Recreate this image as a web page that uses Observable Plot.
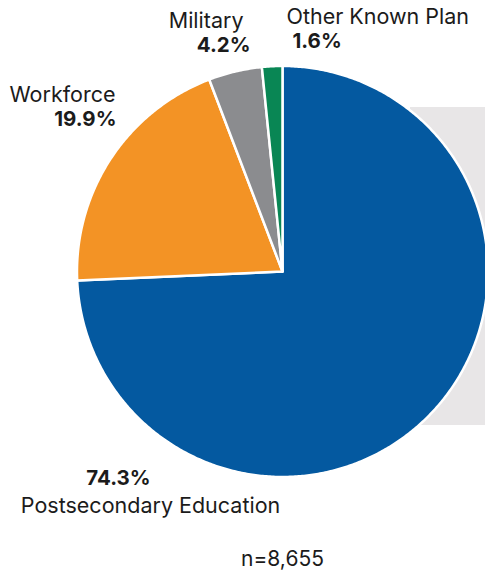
<!DOCTYPE html>
<html><head><meta charset="utf-8">
<script src="https://cdn.jsdelivr.net/npm/d3@7"></script>
<script src="https://cdn.jsdelivr.net/npm/@observablehq/plot@0.6"></script>
<style>body{margin:0;background:#fff;font-family:Inter,sans-serif}</style>
</head><body><div id="chart"></div>
<script>
// ---- data ----
const categories = ["Postsecondary Education", "Workforce", "Military", "Other Known Plan"];
const shares = [74.3, 19.9, 4.2, 1.6];
const shareLabels = ["74.3%", "19.9%", "4.2%", "1.6%"];
const colors = ["#0459a0", "#f39325", "#8b8c8f", "#098654"];
const sampleLabel = "n=8,655";

// ---- layout ----
const W = 485, H = 572, cx = 282, cy = 271, R = 205.5;

const arcs = d3.pie().sort(null).value(d => d.share)(
  categories.map((c, i) => ({name: c, share: shares[i]}))
);
const pts = [];
for (const a of arcs) {
  const name = a.data.name;
  pts.push({name, x: 0, y: 0});
  const n = Math.max(2, Math.ceil((a.endAngle - a.startAngle) / (Math.PI / 360)));
  for (let k = 0; k <= n; k++) {
    const t = a.startAngle + (a.endAngle - a.startAngle) * k / n;
    pts.push({name, x: Math.sin(t), y: Math.cos(t)});
  }
}

// label placement (pixels within the frame)
const place = {
  "Postsecondary Education": {name: [150, 497, "middle"], pct: [118, 470, "middle"]},
  "Workforce": {name: [115, 86, "end"], pct: [116, 111, "end"]},
  "Military": {name: [243, 12, "end"], pct: [250, 37, "end"]},
  "Other Known Plan": {name: [286, 8, "start"], pct: [292, 33, "start"]}
};
const ink = "#1b1b1b";
const textMarks = [];
categories.forEach((c, i) => {
  const p = place[c];
  textMarks.push(Plot.text([c], {frameAnchor: "top-left", dx: p.name[0], dy: p.name[1], textAnchor: p.name[2], lineAnchor: "top", fontSize: 21.5, fill: ink, fontWeight: 400}));
  textMarks.push(Plot.text([shareLabels[i]], {frameAnchor: "top-left", dx: p.pct[0], dy: p.pct[1], textAnchor: p.pct[2], lineAnchor: "top", fontSize: 20.5, fill: ink, fontWeight: 700}));
});

const chart = Plot.plot({
  width: W, height: H,
  margin: 0,
  style: {fontFamily: "Inter, sans-serif", background: "#fff", overflow: "visible"},
  x: {domain: [-cx / R, (W - cx) / R], range: [0, W], axis: null},
  y: {domain: [-(H - cy) / R, cy / R], range: [H, 0], axis: null},
  color: {domain: categories, range: colors},
  marks: [
    Plot.rect([0], {x1: (410 - cx) / R, x2: (W - cx) / R, y1: (cy - 107) / R, y2: (cy - 425) / R, fill: "#e8e6e7"}),
    Plot.line(pts, {x: "x", y: "y", z: "name", fill: "name", stroke: "white", strokeWidth: 2.5, strokeLinejoin: "round", curve: "linear-closed"}),
    ...textMarks,
    Plot.text([sampleLabel], {frameAnchor: "top-left", dx: 282, dy: 551, textAnchor: "middle", lineAnchor: "top", fontSize: 21, fill: ink})
  ]
});
document.getElementById("chart").append(chart);
</script>
</body></html>
